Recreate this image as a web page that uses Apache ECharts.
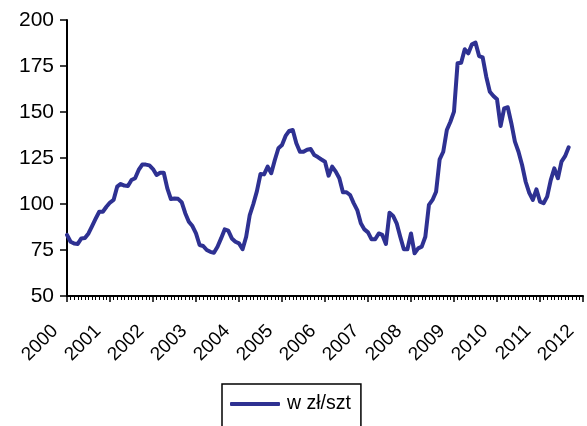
<!DOCTYPE html>
<html>
<head>
<meta charset="utf-8">
<script src="https://cdn.jsdelivr.net/npm/echarts@6/dist/echarts.min.js"></script>
<style>html,body{margin:0;padding:0;background:#fff}#c{width:587px;height:426px}</style>
</head>
<body>
<div id="c"></div>
<script>
var startYear = 2000;
var endYear = 2012;
var seriesName = 'w zł/szt';
// monthly values from Jan 2000
var values = [
 83.2, 79.5, 78.5, 78.3, 81.3, 81.5, 84, 88, 92, 95.8, 95.8, 98.5,
 100.8, 102.2, 109.4, 110.9, 110, 109.8, 113, 114, 118.5, 121.4, 121.4, 121,
 119, 115.8, 117, 117, 108.5, 102.7, 103, 102.8, 101, 95, 90.4, 88,
 84, 77.7, 77.2, 75, 74, 73.5, 76.8, 81.3, 86.2, 85.5, 81.3, 79.5,
 78.6, 75.4, 82.2, 94, 100, 107, 116.3, 116.1, 120.3, 116.7, 123.9, 130.3,
 132.1, 137, 139.7, 140.2, 133, 128.4, 128.4, 129.5, 129.9, 126.6, 125.5, 124.2,
 123, 115.4, 120.3, 117.6, 114, 106.4, 106.4, 104.9, 100.5, 96.7, 89.5, 86.2,
 84.6, 80.8, 80.8, 84, 83.2, 78.3, 95.3, 93.5, 89.5, 82.2, 75.4, 75.4,
 84, 73.2, 75.9, 76.8, 82.2, 99.5, 102.2, 106.7, 124.3, 128.4, 140.2, 144.7,
 150.2, 176.5, 176.8, 184.1, 181.9, 186.8, 187.7, 180.4, 179.7, 169.2, 161, 158.7,
 156.9, 142.4, 152, 152.6, 143.9, 133.9, 128.4, 121.2, 112.1, 106, 102.2, 108,
 101.3, 100.4, 104, 113, 119.4, 114, 123, 126, 130.8
];
var yTicks = [50, 75, 100, 125, 150, 175, 200];

var chart = echarts.init(document.getElementById('c'), null, {renderer: 'canvas'});
var data = values.map(function (v, i) { return [i, v]; });
var font = 'Liberation Sans, Arial, sans-serif';
chart.setOption({
  animation: false,
  backgroundColor: '#fff',
  grid: {left: 67, right: 4, top: 20, bottom: 130, containLabel: false},
  xAxis: {
    type: 'value',
    min: 0,
    max: (endYear - startYear) * 12,
    interval: 12,
    axisLine: {show: true, lineStyle: {color: '#000', width: 2}},
    axisTick: {show: true, length: 6, inside: false, lineStyle: {color: '#000', width: 1.5}},
    minorTick: {show: true, splitNumber: 12, length: 4, lineStyle: {color: '#000', width: 1}},
    splitLine: {show: false},
    minorSplitLine: {show: false},
    axisLabel: {
      rotate: 45, margin: 20, color: '#000', fontSize: 19, fontFamily: font,
      padding: [0, 17, 0, 0],
      formatter: function (v) { return String(startYear + v / 12); }
    }
  },
  yAxis: {
    type: 'value',
    min: yTicks[0],
    max: yTicks[yTicks.length - 1],
    interval: yTicks[1] - yTicks[0],
    axisLine: {show: true, lineStyle: {color: '#000', width: 2}},
    axisTick: {show: true, length: 7, lineStyle: {color: '#000', width: 1.5}},
    splitLine: {show: false},
    axisLabel: {color: '#000', fontSize: 21, fontFamily: font, margin: 13}
  },
  legend: {
    show: true,
    left: 222,
    top: 384,
    padding: [10, 10, 30, 8],
    borderColor: '#000',
    borderWidth: 1.5,
    itemWidth: 50,
    itemHeight: 4,
    itemGap: 0,
    icon: 'roundRect',
    textStyle: {color: '#000', fontSize: 19.5, lineHeight: 20, fontFamily: font, padding: [0, 0, 0, 2]},
    data: [seriesName]
  },
  series: [{
    name: seriesName,
    type: 'line',
    data: data,
    showSymbol: false,
    symbol: 'none',
    color: '#2E3192',
    lineStyle: {color: '#2E3192', width: 4, join: 'round', cap: 'round'}
  }]
});
</script>
</body>
</html>
